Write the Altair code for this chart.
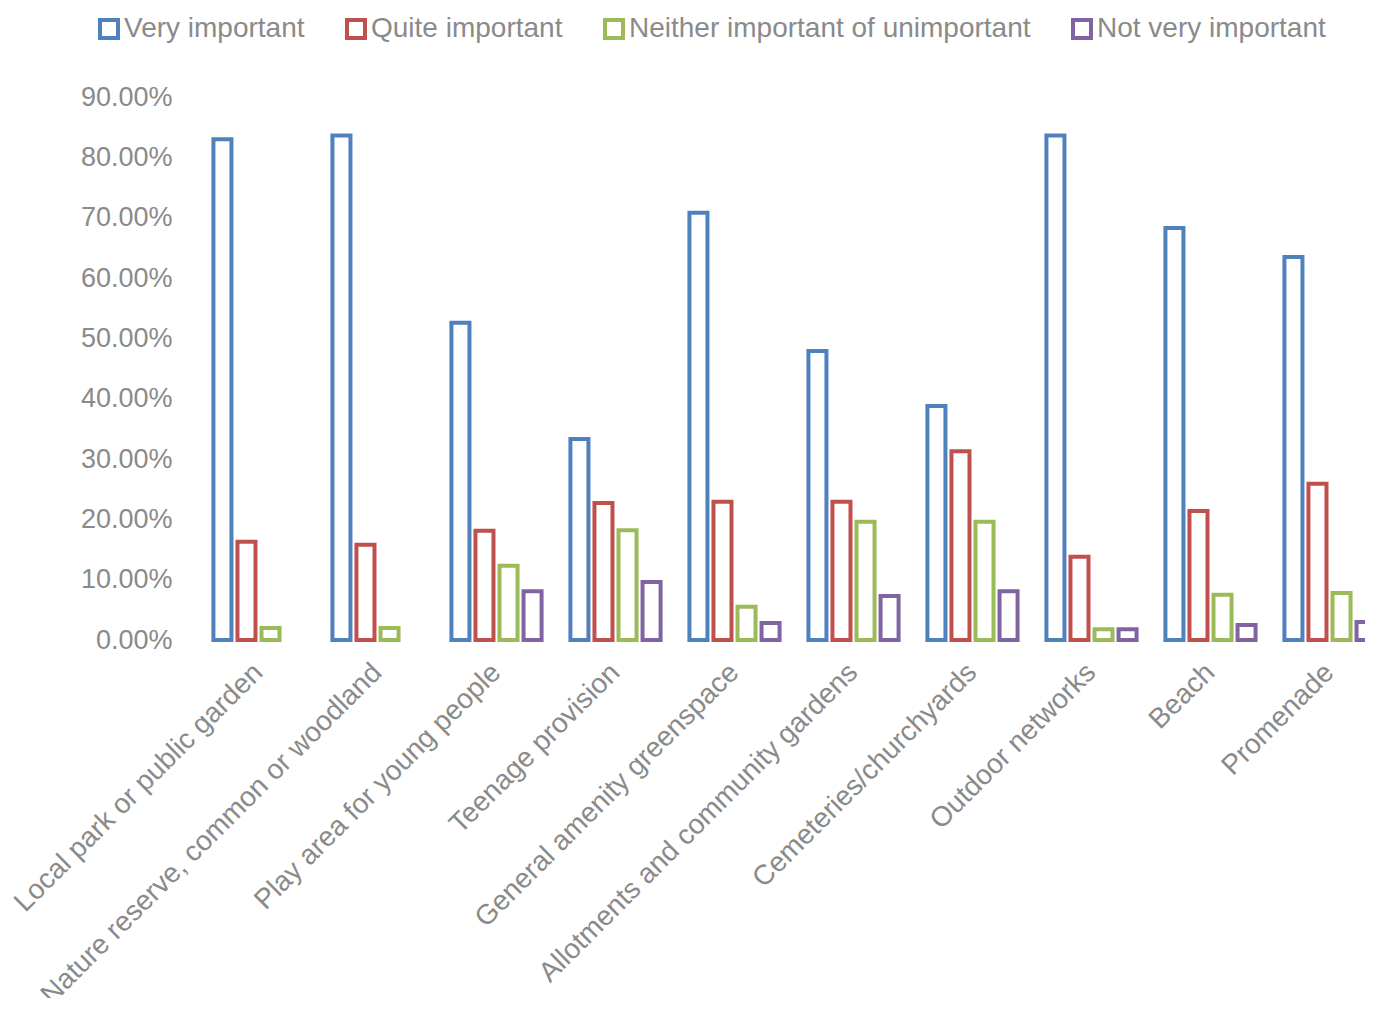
import altair as alt
import pandas as pd

categories = [
    "Local park or public garden",
    "Nature reserve, common or woodland",
    "Play area for young people",
    "Teenage provision",
    "General amenity greenspace",
    "Allotments and community gardens",
    "Cemeteries/churchyards",
    "Outdoor networks",
    "Beach",
    "Promenade",
]
series = ["Very important", "Quite important", "Neither important of unimportant", "Not very important"]
very_important = [0.830, 0.836, 0.526, 0.333, 0.708, 0.479, 0.388, 0.836, 0.683, 0.635]
quite_important = [0.163, 0.158, 0.181, 0.227, 0.229, 0.229, 0.313, 0.138, 0.214, 0.259]
neither = [0.020, 0.020, 0.123, 0.182, 0.055, 0.196, 0.196, 0.018, 0.075, 0.078]
not_very = [None, None, 0.081, 0.096, 0.028, 0.073, 0.081, 0.018, 0.025, 0.030]
colors = ["#4F81BD", "#C0504D", "#9BBB59", "#8064A2"]

rows = []
for s, vals in zip(series, [very_important, quite_important, neither, not_very]):
    for c, v in zip(categories, vals):
        if v is not None:
            rows.append({"category": c, "series": s, "value": v})
df = pd.DataFrame(rows)

FONT = "Liberation Sans"
GRAY = "#8a8a8a"

chart = alt.Chart(df).mark_bar(fill="white", strokeWidth=4).encode(
    x=alt.X(
        "category:N",
        sort=categories,
        scale=alt.Scale(paddingInner=0, paddingOuter=0, range=[0, 1190]),
        axis=alt.Axis(
            title=None, labelAngle=-45, labelAlign="right", labelBaseline="middle",
            labelFontSize=28, labelFont=FONT, labelColor=GRAY, labelPadding=28,
            ticks=False, domain=False, grid=False, labelLimit=1000,
        ),
    ),
    xOffset=alt.XOffset("series:N", sort=series,
                        scale=alt.Scale(paddingInner=0.25, paddingOuter=0.6)),
    y=alt.Y(
        "value:Q",
        scale=alt.Scale(domain=[0, 0.9], nice=False),
        axis=alt.Axis(
            title=None, format=".2%", values=[0, 0.1, 0.2, 0.3, 0.4, 0.5, 0.6, 0.7, 0.8, 0.9],
            labelFontSize=27, labelFont=FONT, labelColor=GRAY, labelPadding=27,
            ticks=False, tickSize=0, domain=False, grid=False,
        ),
    ),
    stroke=alt.Stroke(
        "series:N", sort=series,
        scale=alt.Scale(domain=series, range=colors),
        legend=alt.Legend(
            title=None, orient="none", direction="horizontal", legendX=-104, legendY=-82,
            symbolType="square", symbolSize=324, symbolStrokeWidth=4, symbolFillColor="#eef4fa",
            labelFontSize=28, labelFont=FONT, labelColor=GRAY, labelOffset=1,
            columnPadding=34, labelLimit=1000,
        ),
    ),
).properties(
    width=1166,
    height=543,
    autosize=alt.AutoSizeParams(type="none"),
    padding={"left": 191, "top": 89, "right": 0, "bottom": 358},
).configure_view(stroke=None)

chart.save("out.html", embed_options={"renderer": "svg", "actions": False})
